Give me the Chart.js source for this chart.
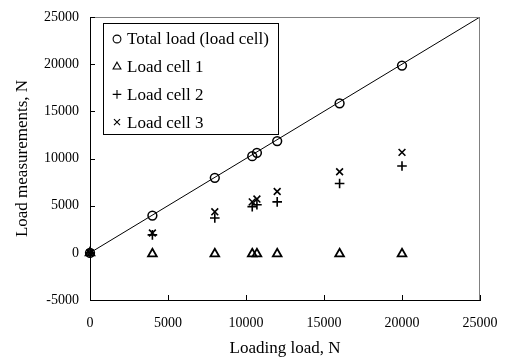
<!DOCTYPE html>
<html>
<head>
<meta charset="utf-8">
<script src="https://cdn.jsdelivr.net/npm/chart.js@4/dist/chart.umd.min.js"></script>
<style>
  html, body { margin: 0; padding: 0; background: #fff; }
  #wrap { width: 507px; height: 360px; }
</style>
</head>
<body>
<div id="wrap"><canvas id="chart" width="507" height="360"></canvas></div>
<script>
// loading load (x) for every measurement
var loadingLoad = [0, 4000, 8000, 10400, 10700, 12000, 16000, 20000];
var totalLoad  = [0, 3950, 7950, 10250, 10600, 11850, 15850, 19850];
var loadCell1  = [0, -100, -100, -100, -100, -100, -100, -100];
var loadCell2  = [0, 1900, 3700, 4900, 5100, 5400, 7350, 9200];
var loadCell3  = [0, 2100, 4350, 5400, 5700, 6500, 8600, 10650];
// 1:1 reference line
var lineX = [0, 25000];
var lineY = [0, 25000];
var xTicks = [0, 5000, 10000, 15000, 20000, 25000];
var yTicks = [-5000, 0, 5000, 10000, 15000, 20000, 25000];

var serif = '"Liberation Serif", "Times New Roman", serif';

function toPoints(xs, ys) {
    var pts = [];
    for (var i = 0; i < xs.length; i++) {
        pts.push({x: xs[i], y: ys[i]});
    }
    return pts;
}

function markerSet(label, ys, style, radius, width) {
    return {
        type: 'scatter',
        label: label,
        data: toPoints(loadingLoad, ys),
        pointStyle: style,
        pointRadius: radius,
        pointHoverRadius: radius,
        pointBorderWidth: width,
        borderColor: '#000',
        backgroundColor: 'rgba(0,0,0,0)',
        clip: false
    };
}

function plainNumber(v) {
    return String(v);
}

// ticks pointing into the plot, plus grey top/right border
var frameTicks = {
    id: 'frameTicks',
    afterDraw: function(chart) {
        var ctx = chart.ctx, a = chart.chartArea;
        var xs = chart.scales.x, ys = chart.scales.y;
        ctx.save();
        ctx.strokeStyle = '#808080';
        ctx.lineWidth = 1;
        ctx.beginPath();
        ctx.moveTo(a.left, a.top + 0.5);
        ctx.lineTo(a.right - 0.5, a.top + 0.5);
        ctx.lineTo(a.right - 0.5, a.bottom);
        ctx.stroke();
        ctx.strokeStyle = '#000';
        ctx.beginPath();
        xTicks.forEach(function(v) {
            var px = Math.round(xs.getPixelForValue(v)) + 0.5;
            ctx.moveTo(px, a.bottom);
            ctx.lineTo(px, a.bottom - 5);
        });
        yTicks.forEach(function(v) {
            var py = Math.round(ys.getPixelForValue(v)) + 0.5;
            ctx.moveTo(a.left, py);
            ctx.lineTo(a.left + 5, py);
        });
        ctx.stroke();
        ctx.restore();
    }
};

// boxed legend inside the plot
var boxLegend = {
    id: 'boxLegend',
    afterDraw: function(chart) {
        var ctx = chart.ctx, a = chart.chartArea;
        var bx = a.left + 13, by = a.top + 6, bw = 175, bh = 111;
        ctx.save();
        ctx.fillStyle = '#fff';
        ctx.fillRect(bx, by, bw, bh);
        ctx.strokeStyle = '#000';
        ctx.lineWidth = 1;
        ctx.strokeRect(bx + 0.5, by + 0.5, bw, bh);
        ctx.textBaseline = 'middle';
        var items = chart.data.datasets.filter(function(d) { return d.type === 'scatter'; });
        items.forEach(function(d, i) {
            var cy = by + 16 + i * 27.7;
            ctx.fillStyle = 'rgba(0,0,0,0)';
            ctx.strokeStyle = '#000';
            ctx.lineWidth = 1.1;
            Chart.helpers.drawPoint(ctx, {
                pointStyle: d.pointStyle,
                radius: d.pointRadius - 0.5,
                borderWidth: 1.1,
                rotation: 0
            }, bx + 14, cy);
            ctx.font = '17px ' + serif;
            ctx.fillStyle = '#000';
            ctx.fillText(d.label, bx + 24, cy + 1);
        });
        ctx.restore();
    }
};

new Chart(document.getElementById('chart'), {
    data: {
        datasets: [
            markerSet('Total load (load cell)', totalLoad, 'circle', 4.4, 1.5),
            markerSet('Load cell 1', loadCell1, 'triangle', 5, 1.8),
            markerSet('Load cell 2', loadCell2, 'cross', 4.8, 1.6),
            markerSet('Load cell 3', loadCell3, 'crossRot', 4.8, 1.6),
            {
                type: 'line',
                label: 'fit',
                data: toPoints(lineX, lineY),
                borderColor: '#000',
                borderWidth: 1,
                pointRadius: 0,
                fill: false
            }
        ]
    },
    options: {
        responsive: false,
        animation: false,
        layout: { padding: { top: 17, right: 27, left: 0, bottom: 0 } },
        plugins: {
            legend: { display: false },
            tooltip: { enabled: false }
        },
        scales: {
            x: {
                type: 'linear',
                min: 0,
                max: 25000,
                afterFit: function(s) {
                    s.height = 60;
                    s.paddingLeft = 0;
                    s.paddingRight = 0;
                },
                ticks: {
                    stepSize: 5000,
                    color: '#000',
                    padding: 15,
                    maxRotation: 0,
                    callback: plainNumber,
                    font: { family: serif, size: 14 }
                },
                grid: { drawOnChartArea: false, drawTicks: false },
                border: { color: '#000', width: 1 },
                title: {
                    display: true,
                    text: 'Loading load, N',
                    color: '#000',
                    padding: { top: 0, bottom: 1 },
                    font: { family: serif, size: 17 }
                }
            },
            y: {
                type: 'linear',
                min: -5000,
                max: 25000,
                afterFit: function(s) {
                    s.width = 90;
                    s.paddingTop = 0;
                    s.paddingBottom = 0;
                },
                ticks: {
                    stepSize: 5000,
                    color: '#000',
                    padding: 11,
                    callback: plainNumber,
                    font: { family: serif, size: 14 }
                },
                grid: { drawOnChartArea: false, drawTicks: false },
                border: { color: '#000', width: 1 },
                title: {
                    display: true,
                    text: 'Load measurements, N',
                    color: '#000',
                    padding: { top: 12, bottom: 0 },
                    font: { family: serif, size: 17 }
                }
            }
        }
    },
    plugins: [frameTicks, boxLegend]
});
</script>
</body>
</html>
